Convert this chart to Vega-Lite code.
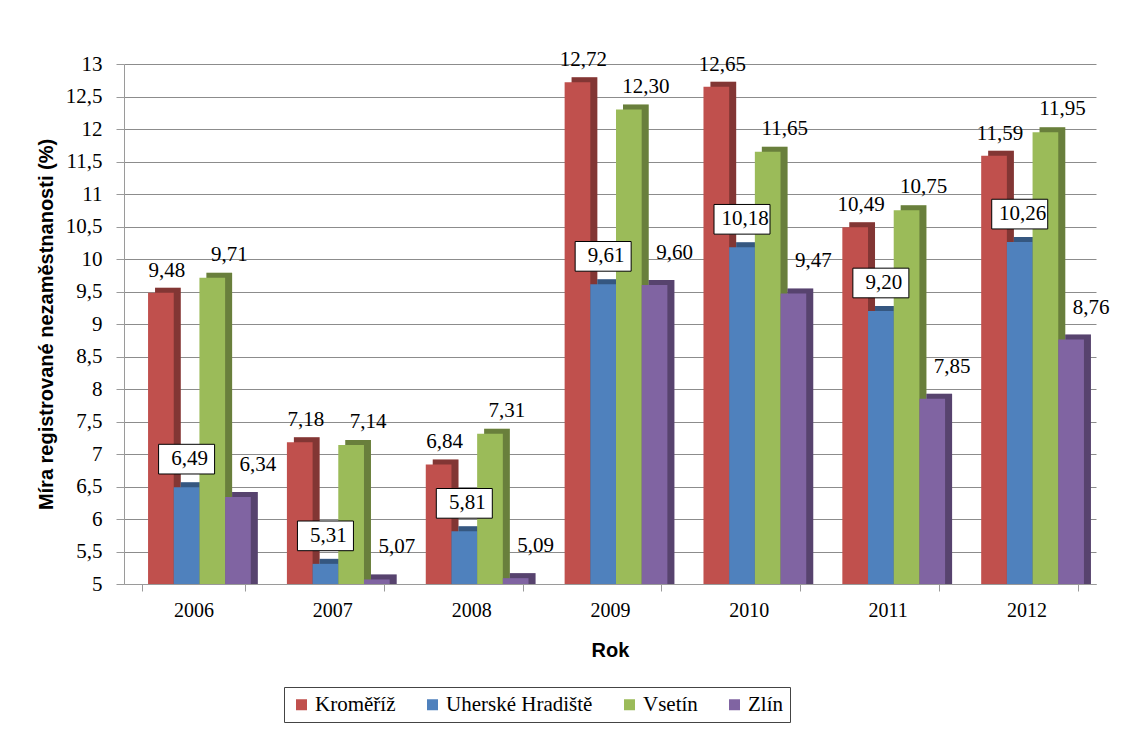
{
  "$schema": "https://vega.github.io/schema/vega-lite/v6.json",
  "width": 972,
  "height": 520,
  "autosize": {"type": "none"},
  "padding": {"left": 124, "top": 64, "right": 45, "bottom": 149},
  "background": "white",
  "data": {
    "values": [
      {"rok": "2006", "okres": "Kroměříž", "hodnota": 9.48},
      {"rok": "2006", "okres": "Uherské Hradiště", "hodnota": 6.49},
      {"rok": "2006", "okres": "Vsetín", "hodnota": 9.71},
      {"rok": "2006", "okres": "Zlín", "hodnota": 6.34},
      {"rok": "2007", "okres": "Kroměříž", "hodnota": 7.18},
      {"rok": "2007", "okres": "Uherské Hradiště", "hodnota": 5.31},
      {"rok": "2007", "okres": "Vsetín", "hodnota": 7.14},
      {"rok": "2007", "okres": "Zlín", "hodnota": 5.07},
      {"rok": "2008", "okres": "Kroměříž", "hodnota": 6.84},
      {"rok": "2008", "okres": "Uherské Hradiště", "hodnota": 5.81},
      {"rok": "2008", "okres": "Vsetín", "hodnota": 7.31},
      {"rok": "2008", "okres": "Zlín", "hodnota": 5.09},
      {"rok": "2009", "okres": "Kroměříž", "hodnota": 12.72},
      {"rok": "2009", "okres": "Uherské Hradiště", "hodnota": 9.61},
      {"rok": "2009", "okres": "Vsetín", "hodnota": 12.30},
      {"rok": "2009", "okres": "Zlín", "hodnota": 9.60},
      {"rok": "2010", "okres": "Kroměříž", "hodnota": 12.65},
      {"rok": "2010", "okres": "Uherské Hradiště", "hodnota": 10.18},
      {"rok": "2010", "okres": "Vsetín", "hodnota": 11.65},
      {"rok": "2010", "okres": "Zlín", "hodnota": 9.47},
      {"rok": "2011", "okres": "Kroměříž", "hodnota": 10.49},
      {"rok": "2011", "okres": "Uherské Hradiště", "hodnota": 9.20},
      {"rok": "2011", "okres": "Vsetín", "hodnota": 10.75},
      {"rok": "2011", "okres": "Zlín", "hodnota": 7.85},
      {"rok": "2012", "okres": "Kroměříž", "hodnota": 11.59},
      {"rok": "2012", "okres": "Uherské Hradiště", "hodnota": 10.26},
      {"rok": "2012", "okres": "Vsetín", "hodnota": 11.95},
      {"rok": "2012", "okres": "Zlín", "hodnota": 8.76}
    ]
  },
  "encoding": {
    "x": {
      "field": "rok",
      "type": "nominal",
      "scale": {"paddingInner": 0.26, "paddingOuter": 0.13},
      "axis": {
        "title": "Rok",
        "labelAngle": 0,
        "labelFont": "Liberation Serif",
        "labelFontSize": 20,
        "labelColor": "#000000",
        "labelPadding": 9,
        "titleFont": "Liberation Sans",
        "titleFontSize": 20,
        "titleFontWeight": "bold",
        "titleColor": "#000000",
        "titlePadding": 20,
        "domainColor": "#9a9a9a",
        "tickColor": "#9a9a9a",
        "tickBand": "extent",
        "tickSize": 7,
        "grid": false
      }
    },
    "y": {
      "field": "hodnota",
      "type": "quantitative",
      "scale": {"domain": [5, 13], "zero": false, "nice": false},
      "axis": {
        "title": "Míra registrované nezaměstnanosti (%)",
        "values": [5, 5.5, 6, 6.5, 7, 7.5, 8, 8.5, 9, 9.5, 10, 10.5, 11, 11.5, 12, 12.5, 13],
        "format": "~g",
        "labelFont": "Liberation Serif",
        "labelFontSize": 21,
        "labelColor": "#000000",
        "labelPadding": 14,
        "titleFont": "Liberation Sans",
        "titleFontSize": 20,
        "titleFontWeight": "bold",
        "titleColor": "#000000",
        "titlePadding": 9,
        "domainColor": "#9a9a9a",
        "tickColor": "#9a9a9a",
        "tickSize": 8,
        "grid": true,
        "gridColor": "#8c8c8c",
        "gridWidth": 1
      }
    }
  },
  "resolve": {"scale": {"xOffset": "independent"}},
  "layer": [
    {
      "mark": {"type": "bar", "yOffset": -5},
      "encoding": {
        "xOffset": {"field": "okres", "type": "nominal", "sort": ["Kroměříž", "Uherské Hradiště", "Vsetín", "Zlín"], "scale": {"range": [13, 115.75]}},
        "y2": {"datum": 5},
        "color": {
          "field": "okres",
          "type": "nominal",
          "scale": {"domain": ["Kroměříž", "Uherské Hradiště", "Vsetín", "Zlín"], "range": ["#c0504d", "#4f81bd", "#9bbb59", "#8064a2"]},
          "legend": {
            "title": null,
            "orient": "none",
            "legendX": 160,
            "legendY": 623,
            "direction": "horizontal"
          }
        }
      }
    },
    {
      "mark": {"type": "bar", "yOffset": -5, "color": "#000000", "opacity": 0.32},
      "encoding": {
        "xOffset": {"field": "okres", "type": "nominal", "sort": ["Kroměříž", "Uherské Hradiště", "Vsetín", "Zlín"], "scale": {"range": [13, 115.75]}},
        "y2": {"datum": 5}
      }
    },
    {
      "mark": {"type": "bar"},
      "encoding": {
        "xOffset": {"field": "okres", "type": "nominal", "sort": ["Kroměříž", "Uherské Hradiště", "Vsetín", "Zlín"], "scale": {"range": [6, 108.75]}},
        "y2": {"datum": 5},
        "color": {
          "field": "okres",
          "type": "nominal",
          "scale": {"domain": ["Kroměříž", "Uherské Hradiště", "Vsetín", "Zlín"], "range": ["#c0504d", "#4f81bd", "#9bbb59", "#8064a2"]},
          "legend": {
            "title": null,
            "orient": "none",
            "legendX": 160,
            "legendY": 623,
            "direction": "horizontal"
          }
        }
      }
    },
    {
      "transform": [{"filter": "datum.okres === 'Kroměříž'"}],
      "mark": {"type": "text", "baseline": "alphabetic", "dy": -16, "dx": 6, "font": "Liberation Serif", "fontSize": 21, "color": "#000000"},
      "encoding": {
        "xOffset": {"field": "okres", "type": "nominal", "sort": ["Kroměříž", "Uherské Hradiště", "Vsetín", "Zlín"], "scale": {"domain": ["Kroměříž", "Uherské Hradiště", "Vsetín", "Zlín"], "range": [6, 108.75]}},
        "text": {"field": "hodnota", "type": "quantitative", "format": ".2f"}
      }
    },
    {
      "transform": [{"filter": "datum.okres === 'Vsetín'"}],
      "mark": {"type": "text", "baseline": "alphabetic", "dy": -17, "dx": 17, "font": "Liberation Serif", "fontSize": 21, "color": "#000000"},
      "encoding": {
        "xOffset": {"field": "okres", "type": "nominal", "sort": ["Kroměříž", "Uherské Hradiště", "Vsetín", "Zlín"], "scale": {"domain": ["Kroměříž", "Uherské Hradiště", "Vsetín", "Zlín"], "range": [6, 108.75]}},
        "text": {"field": "hodnota", "type": "quantitative", "format": ".2f"}
      }
    },
    {
      "transform": [{"filter": "datum.okres === 'Zlín'"}],
      "mark": {"type": "text", "baseline": "alphabetic", "dy": -26, "dx": 20, "font": "Liberation Serif", "fontSize": 21, "color": "#000000"},
      "encoding": {
        "xOffset": {"field": "okres", "type": "nominal", "sort": ["Kroměříž", "Uherské Hradiště", "Vsetín", "Zlín"], "scale": {"domain": ["Kroměříž", "Uherské Hradiště", "Vsetín", "Zlín"], "range": [6, 108.75]}},
        "text": {"field": "hodnota", "type": "quantitative", "format": ".2f"}
      }
    },
    {
      "transform": [{"filter": "datum.okres === 'Uherské Hradiště'"}],
      "mark": {"type": "point", "shape": "M-1,-0.53H1V0.53H-1Z", "size": 3136, "filled": true, "fill": "white", "stroke": "#000000", "strokeWidth": 1, "opacity": 1, "yOffset": -28, "xOffset": 3},
      "encoding": {
        "xOffset": {"field": "okres", "type": "nominal", "sort": ["Kroměříž", "Uherské Hradiště", "Vsetín", "Zlín"], "scale": {"domain": ["Kroměříž", "Uherské Hradiště", "Vsetín", "Zlín"], "range": [6, 108.75]}}
      }
    },
    {
      "transform": [{"filter": "datum.okres === 'Uherské Hradiště'"}],
      "mark": {"type": "text", "baseline": "middle", "dy": -28, "dx": 3, "font": "Liberation Serif", "fontSize": 21, "color": "#000000"},
      "encoding": {
        "xOffset": {"field": "okres", "type": "nominal", "sort": ["Kroměříž", "Uherské Hradiště", "Vsetín", "Zlín"], "scale": {"domain": ["Kroměříž", "Uherské Hradiště", "Vsetín", "Zlín"], "range": [6, 108.75]}},
        "text": {"field": "hodnota", "type": "quantitative", "format": ".2f"}
      }
    }
  ],
  "config": {
    "view": {"stroke": null},
    "legend": {
      "symbolType": "square",
      "symbolSize": 121,
      "symbolStrokeWidth": 0,
      "labelFont": "Liberation Serif",
      "labelFontSize": 21,
      "labelColor": "#000000",
      "labelOffset": 3,
      "columnPadding": 26,
      "strokeColor": "#444444",
      "padding": 7,
      "fillColor": "white"
    },
    "locale": {"number": {"decimal": ",", "thousands": " ", "grouping": [3], "currency": ["", " Kč"]}}
  }
}
